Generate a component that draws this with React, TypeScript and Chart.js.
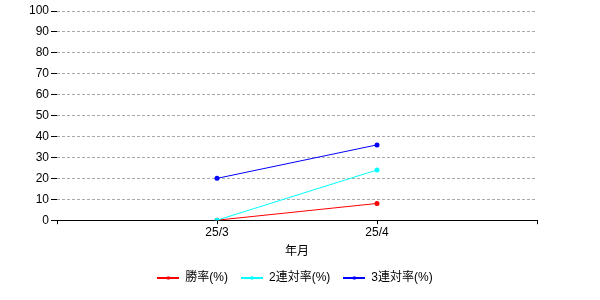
import { useEffect, useRef } from 'react';
import { Chart, registerables } from 'chart.js';

Chart.register(...registerables);

const categories = ['25/3', '25/4'];
const winRate = [0, 8];
const top2Rate = [0, 24];
const top3Rate = [20, 36];
const seriesNames = ['勝率(%)', '2連対率(%)', '3連対率(%)'];
const seriesColors = ['#ff0000', '#00ffff', '#0000ff'];
const yMin = 0;
const yMax = 100;
const yStep = 10;
const xTitle = '年月';

const FONT = "'Liberation Sans', Arial, 'Noto Sans CJK JP', sans-serif";

function makeMarker(color: string): HTMLCanvasElement {
  const c = document.createElement('canvas');
  c.width = 22;
  c.height = 6;
  const ctx = c.getContext('2d')!;
  ctx.strokeStyle = color;
  ctx.lineWidth = 2;
  ctx.beginPath();
  ctx.moveTo(0, 3);
  ctx.lineTo(22, 3);
  ctx.stroke();
  ctx.fillStyle = color;
  ctx.beginPath();
  ctx.arc(11, 3, 1.8, 0, Math.PI * 2);
  ctx.fill();
  return c;
}

export default function App() {
  const ref = useRef<HTMLCanvasElement>(null);

  useEffect(() => {
    if (!ref.current) return;
    const series = [winRate, top2Rate, top3Rate];
    const markers = seriesColors.map(makeMarker);
    const chart = new Chart(ref.current, {
      type: 'line',
      data: {
        datasets: series.map((vals, si) => ({
          label: seriesNames[si],
          data: vals.map((v, i) => ({ x: i + 1, y: v })),
          borderColor: seriesColors[si],
          backgroundColor: seriesColors[si],
          pointBackgroundColor: seriesColors[si],
          pointBorderColor: seriesColors[si],
          borderWidth: 1,
          pointRadius: 2.5,
          pointBorderWidth: 0,
          pointStyle: 'circle',
          order: series.length - si,
          fill: false,
          tension: 0,
        })),
      },
      options: {
        animation: false,
        responsive: true,
        maintainAspectRatio: false,
        layout: { padding: { left: 0, right: 10, top: 11, bottom: 6 } },
        scales: {
          x: {
            type: 'linear',
            min: 0,
            max: categories.length + 1,
            grid: {
              drawOnChartArea: false,
              drawTicks: true,
              tickLength: 4,
              tickColor: '#000',
              tickWidth: 1,
            },
            border: { display: true, color: '#000', width: 1 },
            ticks: {
              stepSize: 1,
              autoSkip: false,
              maxRotation: 0,
              padding: 1,
              color: '#000',
              font: { family: FONT, size: 12 },
              callback: (v: any) => {
                const idx = Number(v) - 1;
                return categories[idx] !== undefined && Number.isInteger(Number(v)) ? categories[idx] : '';
              },
            },
            title: {
              display: true,
              text: xTitle,
              color: '#000',
              font: { family: FONT, size: 12 },
              padding: { top: 4, bottom: 0 },
            },
          },
          y: {
            type: 'linear',
            position: 'left',
            min: yMin,
            max: yMax,
            afterFit: (s: any) => {
              s.width = 57;
            },
            grid: {
              color: '#a9a9a9',
              borderDash: [3, 2],
              tickBorderDash: [],
              tickColor: '#000',
              tickLength: 6,
              lineWidth: 1,
            } as any,
            border: { display: false, dash: [3, 2] },
            ticks: {
              stepSize: yStep,
              padding: 2,
              color: '#000',
              font: { family: FONT, size: 12 },
            },
          },
          yRight: {
            type: 'linear',
            position: 'right',
            display: true,
            afterFit: (s: any) => {
              s.width = 53;
            },
            grid: { display: false, drawTicks: false },
            border: { display: false },
            ticks: { display: false },
          },
        },
        plugins: {
          legend: {
            display: true,
            position: 'bottom',
            labels: {
              usePointStyle: true,
              pointStyleWidth: 22,
              padding: 13,
              color: '#000',
              font: { family: FONT, size: 12 },
              generateLabels: (ch: any) =>
                ch.data.datasets.map((ds: any, i: number) => ({
                  text: ds.label,
                  fillStyle: ds.borderColor,
                  strokeStyle: ds.borderColor,
                  lineWidth: 0,
                  pointStyle: markers[i],
                  hidden: !ch.isDatasetVisible(i),
                  datasetIndex: i,
                  fontColor: '#000',
                })),
            },
          },
          tooltip: { enabled: false },
        },
      },
    });
    return () => chart.destroy();
  }, []);

  return (
    <div style={{ position: 'absolute', left: 0, top: 0, width: 600, height: 300, background: '#fff' }}>
      <canvas ref={ref} />
    </div>
  );
}
